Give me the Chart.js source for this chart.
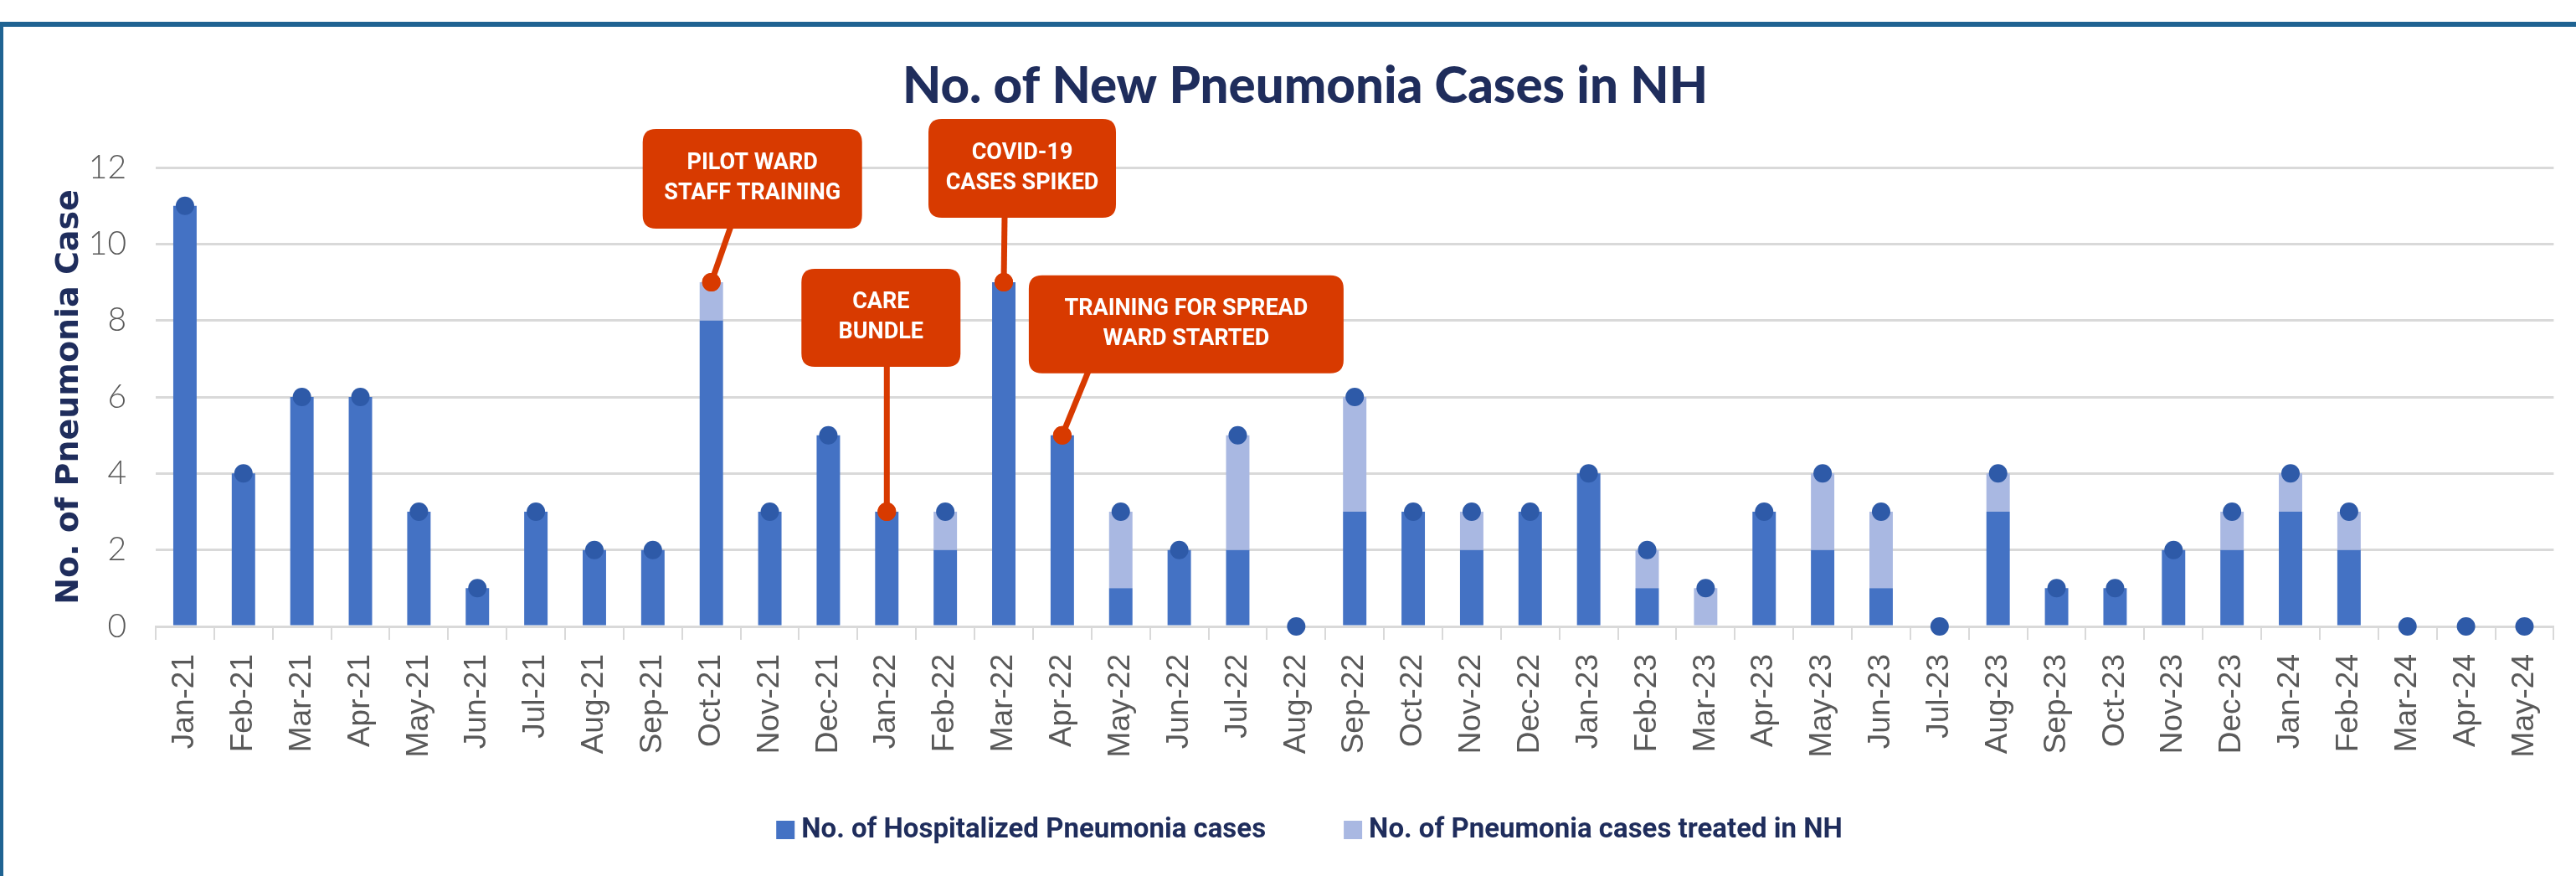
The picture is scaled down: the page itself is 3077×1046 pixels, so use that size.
<!DOCTYPE html>
<html>
<head>
<meta charset="utf-8">
<title>No. of New Pneumonia Cases in NH</title>
<script src="https://cdn.jsdelivr.net/npm/chart.js@4.4.1/dist/chart.umd.min.js"></script>
<style>
    html, body { margin: 0; padding: 0; background: #fff; }
    #wrap { position: relative; width: 3077px; height: 1046px; overflow: hidden; }
    #chart { position: absolute; left: 0; top: 0; }
    #frame {
        position: absolute; left: 0; top: 26px; width: 3077px; height: 1020px;
        box-sizing: border-box; border-top: 6px solid #1f6392; border-left: 4px solid #1f6392;
        pointer-events: none;
    }
</style>
</head>
<body>
<div id="wrap">
    <canvas id="chart" width="3077" height="1046"></canvas>
    <div id="frame"></div>
</div>
<script>
// Data
const months = ['Jan-21', 'Feb-21', 'Mar-21', 'Apr-21', 'May-21', 'Jun-21', 'Jul-21', 'Aug-21', 'Sep-21', 'Oct-21',
    'Nov-21', 'Dec-21', 'Jan-22', 'Feb-22', 'Mar-22', 'Apr-22', 'May-22', 'Jun-22', 'Jul-22', 'Aug-22',
    'Sep-22', 'Oct-22', 'Nov-22', 'Dec-22', 'Jan-23', 'Feb-23', 'Mar-23', 'Apr-23', 'May-23', 'Jun-23',
    'Jul-23', 'Aug-23', 'Sep-23', 'Oct-23', 'Nov-23', 'Dec-23', 'Jan-24', 'Feb-24', 'Mar-24', 'Apr-24', 'May-24'];
const hospitalizedCases = [11, 4, 6, 6, 3, 1, 3, 2, 2, 8,
    3, 5, 3, 2, 9, 5, 1, 2, 2, 0,
    3, 3, 2, 3, 4, 1, 0, 3, 2, 1,
    0, 3, 1, 1, 2, 2, 3, 2, 0, 0, 0];
const treatedInNHCases = [0, 0, 0, 0, 0, 0, 0, 0, 0, 1,
    0, 0, 0, 1, 0, 0, 2, 0, 3, 0,
    3, 0, 1, 0, 0, 1, 1, 0, 2, 2,
    0, 1, 0, 0, 0, 1, 1, 1, 0, 0, 0];
const yTicks = [0, 2, 4, 6, 8, 10, 12];

// Callouts
const calloutMonths = ['Oct-21', 'Jan-22', 'Mar-22', 'Apr-22'];
const calloutTexts = [
    ['PILOT WARD', 'STAFF TRAINING'],
    ['CARE', 'BUNDLE'],
    ['COVID-19', 'CASES SPIKED'],
    ['TRAINING FOR SPREAD', 'WARD STARTED']
];
// box placement relative to the marked point, in px
const calloutBoxes = [
    { dx: -82, dy: -183, w: 262, h: 119, lineDx: 23 },
    { dx: -102, dy: -290, w: 190, h: 117, lineDx: 0 },
    { dx: -90, dy: -195, w: 224, h: 118, lineDx: 1 },
    { dx: -40, dy: -191, w: 376, h: 117, lineDx: 31 }
];

const NAVY = '#1f2d5c';
const DARK_BLUE = '#4472c4';
const LIGHT_BLUE = '#a9b8e2';
const DOT_BLUE = '#2e5aa8';
const CALLOUT_RED = '#d83a00';

const totalCases = months.map((m, i) => hospitalizedCases[i] + treatedInNHCases[i]);
const dotColors = months.map(m => calloutMonths.includes(m) ? CALLOUT_RED : DOT_BLUE);

function roundRect(ctx, x, y, w, h, r) {
    ctx.beginPath();
    ctx.moveTo(x + r, y);
    ctx.lineTo(x + w - r, y);
    ctx.quadraticCurveTo(x + w, y, x + w, y + r);
    ctx.lineTo(x + w, y + h - r);
    ctx.quadraticCurveTo(x + w, y + h, x + w - r, y + h);
    ctx.lineTo(x + r, y + h);
    ctx.quadraticCurveTo(x, y + h, x, y + h - r);
    ctx.lineTo(x, y + r);
    ctx.quadraticCurveTo(x, y, x + r, y);
    ctx.closePath();
}

const calloutPlugin = {
    id: 'callouts',
    afterDatasetsDraw(chart) {
        const ctx = chart.ctx;
        const points = chart.getDatasetMeta(2).data;
        ctx.save();
        calloutMonths.forEach((month, k) => {
            const pt = points[months.indexOf(month)];
            const box = calloutBoxes[k];
            const bx = pt.x + box.dx, by = pt.y + box.dy;

            // connector
            ctx.strokeStyle = CALLOUT_RED;
            ctx.lineWidth = 7;
            ctx.beginPath();
            ctx.moveTo(pt.x + box.lineDx, by + box.h - 2);
            ctx.lineTo(pt.x, pt.y);
            ctx.stroke();
            ctx.fillStyle = CALLOUT_RED;
            ctx.beginPath();
            ctx.arc(pt.x, pt.y, 11, 0, Math.PI * 2);
            ctx.fill();

            // box
            roundRect(ctx, bx, by, box.w, box.h, 16);
            ctx.fill();

            // text
            ctx.fillStyle = '#ffffff';
            ctx.font = '700 27px Roboto, "Liberation Sans", sans-serif';
            ctx.textAlign = 'center';
            ctx.textBaseline = 'middle';
            const lines = calloutTexts[k];
            const cy = by + box.h / 2;
            lines.forEach((line, j) => {
                ctx.fillText(line, bx + box.w / 2, cy + (j - (lines.length - 1) / 2) * 36);
            });
        });
        ctx.restore();
    }
};

// Legend drawn under the axis labels, with Excel-like spacing
const legendPlugin = {
    id: 'bottomLegend',
    afterDraw(chart) {
        const ctx = chart.ctx;
        const items = chart.data.datasets.slice(0, 2);
        const box = 22, gapText = 8, gapItem = 93;
        const centerX = 1564, centerY = 991;
        ctx.save();
        ctx.font = '700 33px Roboto, "Liberation Sans", sans-serif';
        ctx.textBaseline = 'middle';
        ctx.textAlign = 'left';
        const widths = items.map(ds => ctx.measureText(ds.label).width);
        const total = widths.reduce((a, w) => a + box + gapText + w, 0) + gapItem * (items.length - 1);
        let x = centerX - total / 2;
        items.forEach((ds, i) => {
            ctx.fillStyle = ds.backgroundColor;
            ctx.fillRect(x, centerY - box / 2, box, box);
            ctx.fillStyle = NAVY;
            ctx.fillText(ds.label, x + box + gapText, centerY + 1);
            x += box + gapText + widths[i] + gapItem;
        });
        ctx.restore();
    }
};

const ctx = document.getElementById('chart').getContext('2d');
new Chart(ctx, {
    type: 'bar',
    data: {
        labels: months,
        datasets: [
            {
                label: 'No. of Hospitalized Pneumonia cases',
                data: hospitalizedCases,
                backgroundColor: DARK_BLUE,
                categoryPercentage: 1,
                barPercentage: 0.4,
                stack: 'cases',
                order: 1
            },
            {
                label: 'No. of Pneumonia cases treated in NH',
                data: treatedInNHCases,
                backgroundColor: LIGHT_BLUE,
                categoryPercentage: 1,
                barPercentage: 0.4,
                stack: 'cases',
                order: 1
            },
            {
                type: 'line',
                label: 'Total',
                data: totalCases,
                showLine: false,
                pointRadius: 11,
                pointHoverRadius: 11,
                pointBorderWidth: 0,
                pointBackgroundColor: dotColors,
                pointBorderColor: dotColors,
                stack: 'dots',
                clip: false,
                order: 0
            }
        ]
    },
    options: {
        responsive: false,
        animation: false,
        layout: { padding: { left: 48, right: 7, top: 0, bottom: 130 } },
        plugins: {
            title: {
                display: true,
                text: 'No. of New Pneumonia Cases in NH',
                color: NAVY,
                font: { family: 'Lato, "DejaVu Sans", sans-serif', size: 60, weight: '900', lineHeight: 1.2 },
                padding: { top: 68, bottom: 60 }
            },
            legend: { display: false },
            tooltip: { enabled: false }
        },
        scales: {
            x: {
                stacked: true,
                grid: {
                    offset: true,
                    drawOnChartArea: false,
                    drawTicks: true,
                    tickLength: 16,
                    color: '#d9d9d9',
                    lineWidth: 2
                },
                border: { display: true, color: '#d9d9d9', width: 3 },
                ticks: {
                    autoSkip: false,
                    minRotation: 90,
                    maxRotation: 90,
                    padding: 17,
                    color: '#595959',
                    font: { family: '"Liberation Sans", Arial, sans-serif', size: 37 }
                },
                afterFit(scale) { scale.height = 168; }
            },
            y: {
                stacked: true,
                min: 0,
                max: 12,
                afterBuildTicks(scale) { scale.ticks = yTicks.map(v => ({ value: v })); },
                grid: { color: '#d9d9d9', lineWidth: 3, drawTicks: false },
                border: { display: false },
                ticks: {
                    padding: 35,
                    color: '#595959',
                    font: { family: 'Lato, "Open Sans", sans-serif', size: 39, weight: '300' }
                },
                title: {
                    display: true,
                    text: 'No. of Pneumonia Case',
                    color: NAVY,
                    font: { family: '"DejaVu Sans", sans-serif', size: 38, weight: 'bold', lineHeight: 1.2 },
                    padding: { top: 12, bottom: 0 }
                },
                afterFit(scale) { scale.width = 138; }
            }
        }
    },
    plugins: [calloutPlugin, legendPlugin]
});
</script>
</body>
</html>
